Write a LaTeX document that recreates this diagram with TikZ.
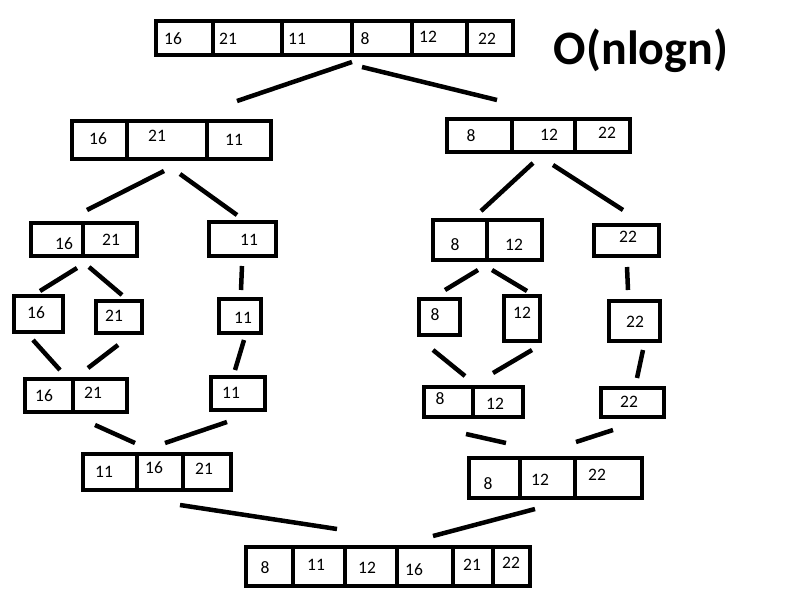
\documentclass[tikz,border=0pt]{standalone}
\usepackage{fontspec}
\setmainfont{Carlito}
\usetikzlibrary{positioning}
\tikzset{
  box/.style={draw,line width=4pt,inner sep=0pt},
  divln/.style={line width=4pt},
  link/.style={line width=4.5pt},
  num/.style={inner sep=0pt,font=\fontsize{17.5}{19}\selectfont},
  bigo/.style={inner sep=0pt,font=\fontsize{48}{52}\selectfont\bfseries},
}
\begin{document}
\begin{tikzpicture}[x=1pt,y=-1pt]
  \fill[white] (0,0) rectangle (808,592);
  \useasboundingbox (0,0) rectangle (808,592);

  % split
  \node[box,minimum width=357,minimum height=34] (top) at (334.5,38) {};
  \draw[divln] (213,21) -- (213,55) (282,21) -- (282,55) (352,21) -- (352,55)
               (412,21) -- (412,55) (467,21) -- (467,55);
  \node[num] (top1) at (173,39) {16};
  \node[num] (top2) at (228,39) {21};
  \node[num] (top3) at (297,39) {11};
  \node[num] (top4) at (365,39) {8};
  \node[num] (top5) at (428,37) {12};
  \node[num] (top6) at (487,39) {22};

  \node[bigo] (cplx) at (641,51) {O(nlogn)};

  \node[box,minimum width=199,minimum height=38] (l1l) at (171.5,140) {};
  \draw[divln] (127,121) -- (127,159) (207,121) -- (207,159);
  \node[num] (l1l1) at (98,139) {16};
  \node[num] (l1l2) at (157,136) {21};
  \node[num] (l1l3) at (234,140) {11};

  \node[box,minimum width=183,minimum height=33] (l1r) at (538.5,135.5) {};
  \draw[divln] (512,119) -- (512,152) (575,119) -- (575,152);
  \node[num] (l1r1) at (471,136) {8};
  \node[num] (l1r2) at (549,135) {12};
  \node[num] (l1r3) at (607,133) {22};

  \node[box,minimum width=106,minimum height=33] (l2a) at (84,239.5) {};
  \draw[divln] (83,223) -- (83,256);
  \node[num] (l2a1) at (64,244) {16};
  \node[num] (l2a2) at (111,240) {21};
  \node[box,minimum width=67,minimum height=34] (l2b) at (242.5,239) {};
  \node[num] (l2b1) at (249,240) {11};
  \node[box,minimum width=109,minimum height=40] (l2c) at (487.5,240) {};
  \draw[divln] (487,220) -- (487,260);
  \node[num] (l2c1) at (455,245) {8};
  \node[num] (l2c2) at (514,245) {12};
  \node[box,minimum width=65,minimum height=31] (l2d) at (626.5,240.5) {};
  \node[num] (l2d1) at (628,237) {22};

  \node[box,minimum width=49,minimum height=36] (l3a) at (38.5,314) {};
  \node[num] (l3a1) at (36,313) {16};
  \node[box,minimum width=46,minimum height=32] (l3b) at (119,317) {};
  \node[num] (l3b1) at (114,316) {21};
  \node[box,minimum width=42,minimum height=34] (l3c) at (240,316) {};
  \node[num] (l3c1) at (243,318) {11};
  \node[box,minimum width=41,minimum height=36] (l3d) at (439.5,317) {};
  \node[num] (l3d1) at (435,315) {8};
  \node[box,minimum width=36,minimum height=45] (l3e) at (522,318.5) {};
  \node[num] (l3e1) at (522,313) {12};
  \node[box,minimum width=51,minimum height=40] (l3f) at (634.5,321) {};
  \node[num] (l3f1) at (635,322) {22};

  % merge
  \node[box,minimum width=102,minimum height=33] (l4a) at (76,395.5) {};
  \draw[divln] (73,379) -- (73,412);
  \node[num] (l4a1) at (44,396) {16};
  \node[num] (l4a2) at (93,393) {21};
  \node[box,minimum width=54,minimum height=33] (l4b) at (238,393.5) {};
  \node[num] (l4b1) at (231,393) {11};
  \node[box,minimum width=99,minimum height=30] (l4c) at (473.5,402) {};
  \draw[divln] (473,387) -- (473,417);
  \node[num] (l4c1) at (440,399) {8};
  \node[num] (l4c2) at (495,404) {12};
  \node[box,minimum width=63,minimum height=29] (l4d) at (632.5,402.5) {};
  \node[num] (l4d1) at (629,402) {22};

  \node[box,minimum width=148,minimum height=36] (l5a) at (157,472) {};
  \draw[divln] (137,454) -- (137,490) (183,454) -- (183,490);
  \node[num] (l5a1) at (104,472) {11};
  \node[num] (l5a2) at (154,468) {16};
  \node[num] (l5a3) at (204,469) {21};
  \node[box,minimum width=173,minimum height=40] (l5b) at (555.5,478) {};
  \draw[divln] (520,458) -- (520,498) (575,458) -- (575,498);
  \node[num] (l5b1) at (488,484) {8};
  \node[num] (l5b2) at (540,480) {12};
  \node[num] (l5b3) at (597,475) {22};

  \node[box,minimum width=284,minimum height=39] (bot) at (388,566.5) {};
  \draw[divln] (293,547) -- (293,586) (345,547) -- (345,586) (397,547) -- (397,586)
               (453,547) -- (453,586) (493,547) -- (493,586);
  \node[num] (bot1) at (265,568) {8};
  \node[num] (bot2) at (316,565) {11};
  \node[num] (bot3) at (367,568) {12};
  \node[num] (bot4) at (414,570) {16};
  \node[num] (bot5) at (472,565) {21};
  \node[num] (bot6) at (511,563) {22};

  \draw[link] ([shift={(17.5,5)}]top.south) -- ([shift={(65.5,-18)}]l1l.north);
  \draw[link] ([shift={(27.5,10)}]top.south) -- ([shift={(-41.5,-17)}]l1r.north);
  \draw[link] ([shift={(-7.5,10)}]l1l.south) -- ([shift={(3,-11)}]l2a.north);
  \draw[link] ([shift={(8.5,13)}]l1l.south) -- ([shift={(-5.5,-5)}]l2b.north);
  \draw[link] ([shift={(-5.5,9)}]l1r.south) -- ([shift={(-6.5,-7)}]l2c.north);
  \draw[link] ([shift={(14.5,11)}]l1r.south) -- ([shift={(-3.5,-13)}]l2d.north);
  \draw[link] ([shift={(-7,10)}]l2a.south) -- ([shift={(1.5,-3)}]l3a.north);
  \draw[link] ([shift={(5,9)}]l2a.south) -- ([shift={(3,-4)}]l3b.north);
  \draw[link] ([shift={(-0.5,8)}]l2b.south) -- ([shift={(1,-7)}]l3c.north);
  \draw[link] ([shift={(-9.5,8)}]l2c.south) -- ([shift={(5.5,-7)}]l3d.north);
  \draw[link] ([shift={(4.5,8)}]l2c.south) -- ([shift={(5,-3)}]l3e.north);
  \draw[link] ([shift={(0.5,9)}]l2d.south) -- ([shift={(-6.5,-9)}]l3f.north);

  \draw[link] ([shift={(-5.5,6)}]l3a.south) -- ([shift={(-16,-7)}]l4a.north);
  \draw[link] ([shift={(-1,10)}]l3b.south) -- ([shift={(12,-9)}]l4a.north);
  \draw[link] ([shift={(4,5)}]l3c.south) -- ([shift={(-3,-5)}]l4b.north);
  \draw[link] ([shift={(-6.5,13)}]l3d.south) -- ([shift={(-8.5,-9)}]l4c.north);
  \draw[link] ([shift={(10,7)}]l3e.south) -- ([shift={(19.5,-12)}]l4c.north);
  \draw[link] ([shift={(8.5,7)}]l3f.south) -- ([shift={(4.5,-8)}]l4d.north);
  \draw[link] ([shift={(19,11)}]l4a.south) -- ([shift={(-22,-9)}]l5a.north);
  \draw[link] ([shift={(-11,10)}]l4b.south) -- ([shift={(8,-9)}]l5a.north);
  \draw[link] ([shift={(-7.5,15)}]l4c.south) -- ([shift={(-49.5,-13)}]l5b.north);
  \draw[link] ([shift={(-19.5,11)}]l4d.south) -- ([shift={(20.5,-14)}]l5b.north);
  \draw[link] ([shift={(23,13)}]l5a.south) -- ([shift={(-51,-16)}]bot.north);
  \draw[link] ([shift={(-20.5,9)}]l5b.south) -- ([shift={(45,-9)}]bot.north);
\end{tikzpicture}
\end{document}
